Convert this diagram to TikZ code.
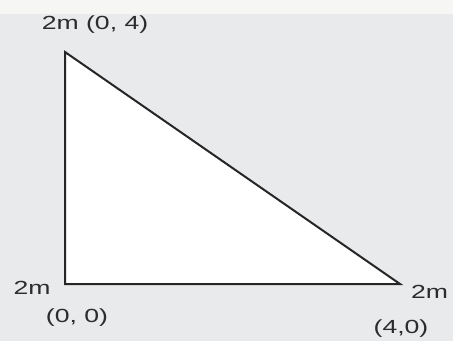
\documentclass[tikz,border=0pt]{standalone}
\usepackage{fontspec}
\setmainfont{Liberation Sans}
\usetikzlibrary{positioning}

\definecolor{bgGrey}{HTML}{E8EAEC}
\definecolor{topBand}{HTML}{F6F6F4}
\definecolor{labelGrey}{HTML}{2C2C2C}

\begin{document}
\begin{tikzpicture}[
  x=1pt, y=-1pt,
  side/.style={draw=black!85, line width=2pt, line join=miter, fill=white},
  lbl/.style={inner sep=0pt, text=labelGrey, font=\fontsize{19}{19}\selectfont}
]
% page and background
\useasboundingbox (0,0) rectangle (453,341);
\fill[bgGrey] (0,0) rectangle (453,341);
\fill[topBand] (0,0) rectangle (453,14);

% corners of the triangle
\coordinate (top) at (65,52);
\coordinate (origin) at (65,284);
\coordinate (right) at (400,284);

\draw[side] (top) -- (origin) -- (right) -- cycle;

% labels
\node[lbl] (topLbl) at (95,25) {\scalebox{1.4}[1]{2m (0, 4)}};
\node[lbl] (leftLbl) at (32,288) {\scalebox{1.4}[1]{2m}};
\node[lbl] (originLbl) at (77,318) {\scalebox{1.4}[1]{(0, 0)}};
\node[lbl, anchor=west] (rightLbl) at (411,292) {\scalebox{1.4}[1]{2m}};
\node[lbl] (rightPt) at (401,329) {\scalebox{1.4}[1]{(4,0)}};
\end{tikzpicture}
\end{document}
